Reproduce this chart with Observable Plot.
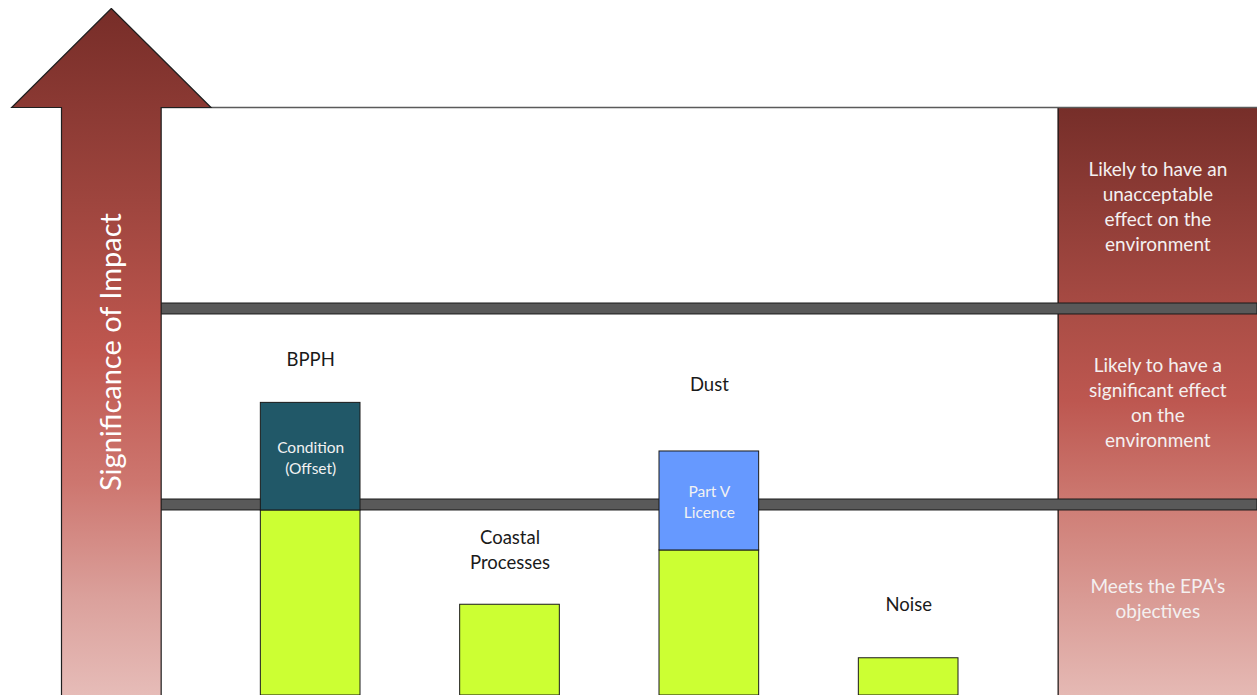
<!DOCTYPE html>
<html>
<head>
<meta charset="utf-8">
<script src="https://cdn.jsdelivr.net/npm/d3@7"></script>
<script src="https://cdn.jsdelivr.net/npm/@observablehq/plot@0.6"></script>
<style>
  html, body { margin: 0; padding: 0; background: #ffffff; }
  #chart svg { display: block; }
</style>
</head>
<body>
<div id="chart"></div>
<script>
// Impact factors and how far each rises up the significance scale
const categories = ["BPPH", "Coastal Processes", "Dust", "Noise"];
const baseLevel = [94.4, 46.3, 74, 19];            // residual impact (green)
const controlLevel = [149.3, null, 124.5, null];   // impact managed by a condition / licence
const controlText = ["Condition\n(Offset)", null, "Part V\nLicence", null];
const controlColor = ["#215868", null, "#6699ff", null];

// Significance zones, bottom to top
const zoneBounds = [0, 100, 200, 300];
const zoneLabels = [
  "Meets the EPA’s\nobjectives",
  "Likely to have a\nsignificant effect\non the\nenvironment",
  "Likely to have an\nunacceptable\neffect on the\nenvironment"
];
const axisTitle = "Significance of Impact";

// Layout helpers (slot 0 = arrow, slots 1–4 = factors, slot 5 = zone column)
const slotWidth = 0.5;
const bandThickness = 5.6;
const arrowTip = 350.5;
const plotHeight = 695, panelTopPx = 107;
const panelTop = zoneBounds[zoneBounds.length - 1];
const pxPerUnit = (plotHeight - panelTopPx) / panelTop;
// gap (px) between a bar's top and the middle of its name
const labelGap = {"BPPH": 45, "Coastal Processes": 56, "Dust": 68, "Noise": 55};

const rows = categories.map((c, i) => ({
  name: c,
  x: i + 1,
  base: baseLevel[i],
  top: controlLevel[i],
  control: controlText[i],
  color: controlColor[i]
}));
const controls = rows.filter(d => d.top != null);
const zones = zoneLabels.map((t, i) => ({lo: zoneBounds[i], hi: zoneBounds[i + 1], text: t, i}));
const bands = zoneBounds.slice(1, -1).map(v => ({lo: v - bandThickness, hi: v}));

const arrowOutline = [
  [slotWidth / 2, arrowTip],
  [slotWidth * 1.5, panelTop],
  [slotWidth, panelTop],
  [slotWidth, 0],
  [0, 0],
  [0, panelTop],
  [-slotWidth / 2, panelTop],
  [slotWidth / 2, arrowTip]
];

const font = "Lato, 'Open Sans', sans-serif";

const chart = Plot.plot({
  width: 1257,
  height: plotHeight,
  margin: 0,
  x: {domain: [0, 6], range: [61, 1257], axis: null},
  y: {domain: [0, panelTop], range: [plotHeight, panelTopPx], axis: null},
  style: {background: "#ffffff", fontFamily: font},
  marks: [
    // zone column on the right
    ...zones.map(z => Plot.rect([z], {
      x1: 5, x2: 6, y1: "lo", y2: "hi",
      fill: `url(#zoneGrad${z.i})`
    })),
    Plot.ruleX([5], {y1: 0, y2: panelTop, stroke: "#1a1a1a", strokeWidth: 1.2}),
    // threshold bands between zones
    Plot.rect(bands, {
      x1: slotWidth, x2: 6, y1: "lo", y2: "hi",
      fill: "#595959", stroke: "#1a1a1a", strokeWidth: 1
    }),
    // panel top edge
    Plot.ruleY([panelTop], {x1: slotWidth, x2: 6, stroke: "#5a5a5a", strokeWidth: 1.5}),
    // residual impact bars
    Plot.rect(rows, {
      x1: "x", x2: d => d.x + slotWidth, y1: 0, y2: "base",
      fill: "#ccff33", stroke: "#1a1a1a", strokeWidth: 1
    }),
    // managed portion stacked on top
    Plot.rect(controls, {
      x1: "x", x2: d => d.x + slotWidth, y1: "base", y2: "top",
      fill: "color", stroke: "#1a1a1a", strokeWidth: 1
    }),
    Plot.text(controls, {
      x: d => d.x + slotWidth / 2, y: d => (d.base + d.top) / 2,
      text: "control", fill: "#f2f2f2", fontSize: 15.5, lineHeight: 1.35
    }),
    // factor names above each bar
    Plot.text(rows, {
      x: d => d.x + slotWidth / 2,
      y: d => (d.top ?? d.base) + labelGap[d.name] / pxPerUnit,
      text: d => d.name.replace(" ", "\n"),
      fill: "#1a1a1a", fontSize: 18.5, lineHeight: 1.35
    }),
    // zone descriptions
    Plot.text(zones, {
      x: 5.5, y: d => (d.lo + d.hi) / 2,
      text: "text", fill: "#f4f0f0", fontSize: 19, lineHeight: 1.32
    }),
    // significance arrow
    Plot.line(arrowOutline, {
      x: d => d[0], y: d => d[1],
      fill: "url(#arrowGrad)", stroke: "#1f1f1f", strokeWidth: 1.2,
      strokeLinecap: "butt", strokeLinejoin: "miter", strokeMiterlimit: 10
    }),
    Plot.text([axisTitle], {
      x: slotWidth / 2, y: arrowTip / 2, text: d => d,
      rotate: -90, fill: "#ffffff", fontSize: 29
    })
  ]
});

// colour fills for the arrow and the zone column
const defs = d3.select(chart).insert("defs", ":first-child");
function gradient(id, stops) {
  const g = defs.append("linearGradient").attr("id", id)
    .attr("x1", 0).attr("y1", 0).attr("x2", 0).attr("y2", 1);
  stops.forEach(([o, c]) => g.append("stop").attr("offset", o).attr("stop-color", c));
}
gradient("arrowGrad", [[0, "#772d28"], [0.28, "#9e453e"], [0.5, "#bf574f"], [0.69, "#cd766f"], [0.86, "#dba19c"], [1, "#e6bcb8"]]);
gradient("zoneGrad2", [[0, "#762e29"], [1, "#a64a43"]]);
gradient("zoneGrad1", [[0, "#a84c44"], [0.5, "#bd5750"], [1, "#cc7870"]]);
gradient("zoneGrad0", [[0, "#ce7b73"], [0.5, "#d99a94"], [1, "#e5b9b4"]]);

document.getElementById("chart").append(chart);
</script>
</body>
</html>
